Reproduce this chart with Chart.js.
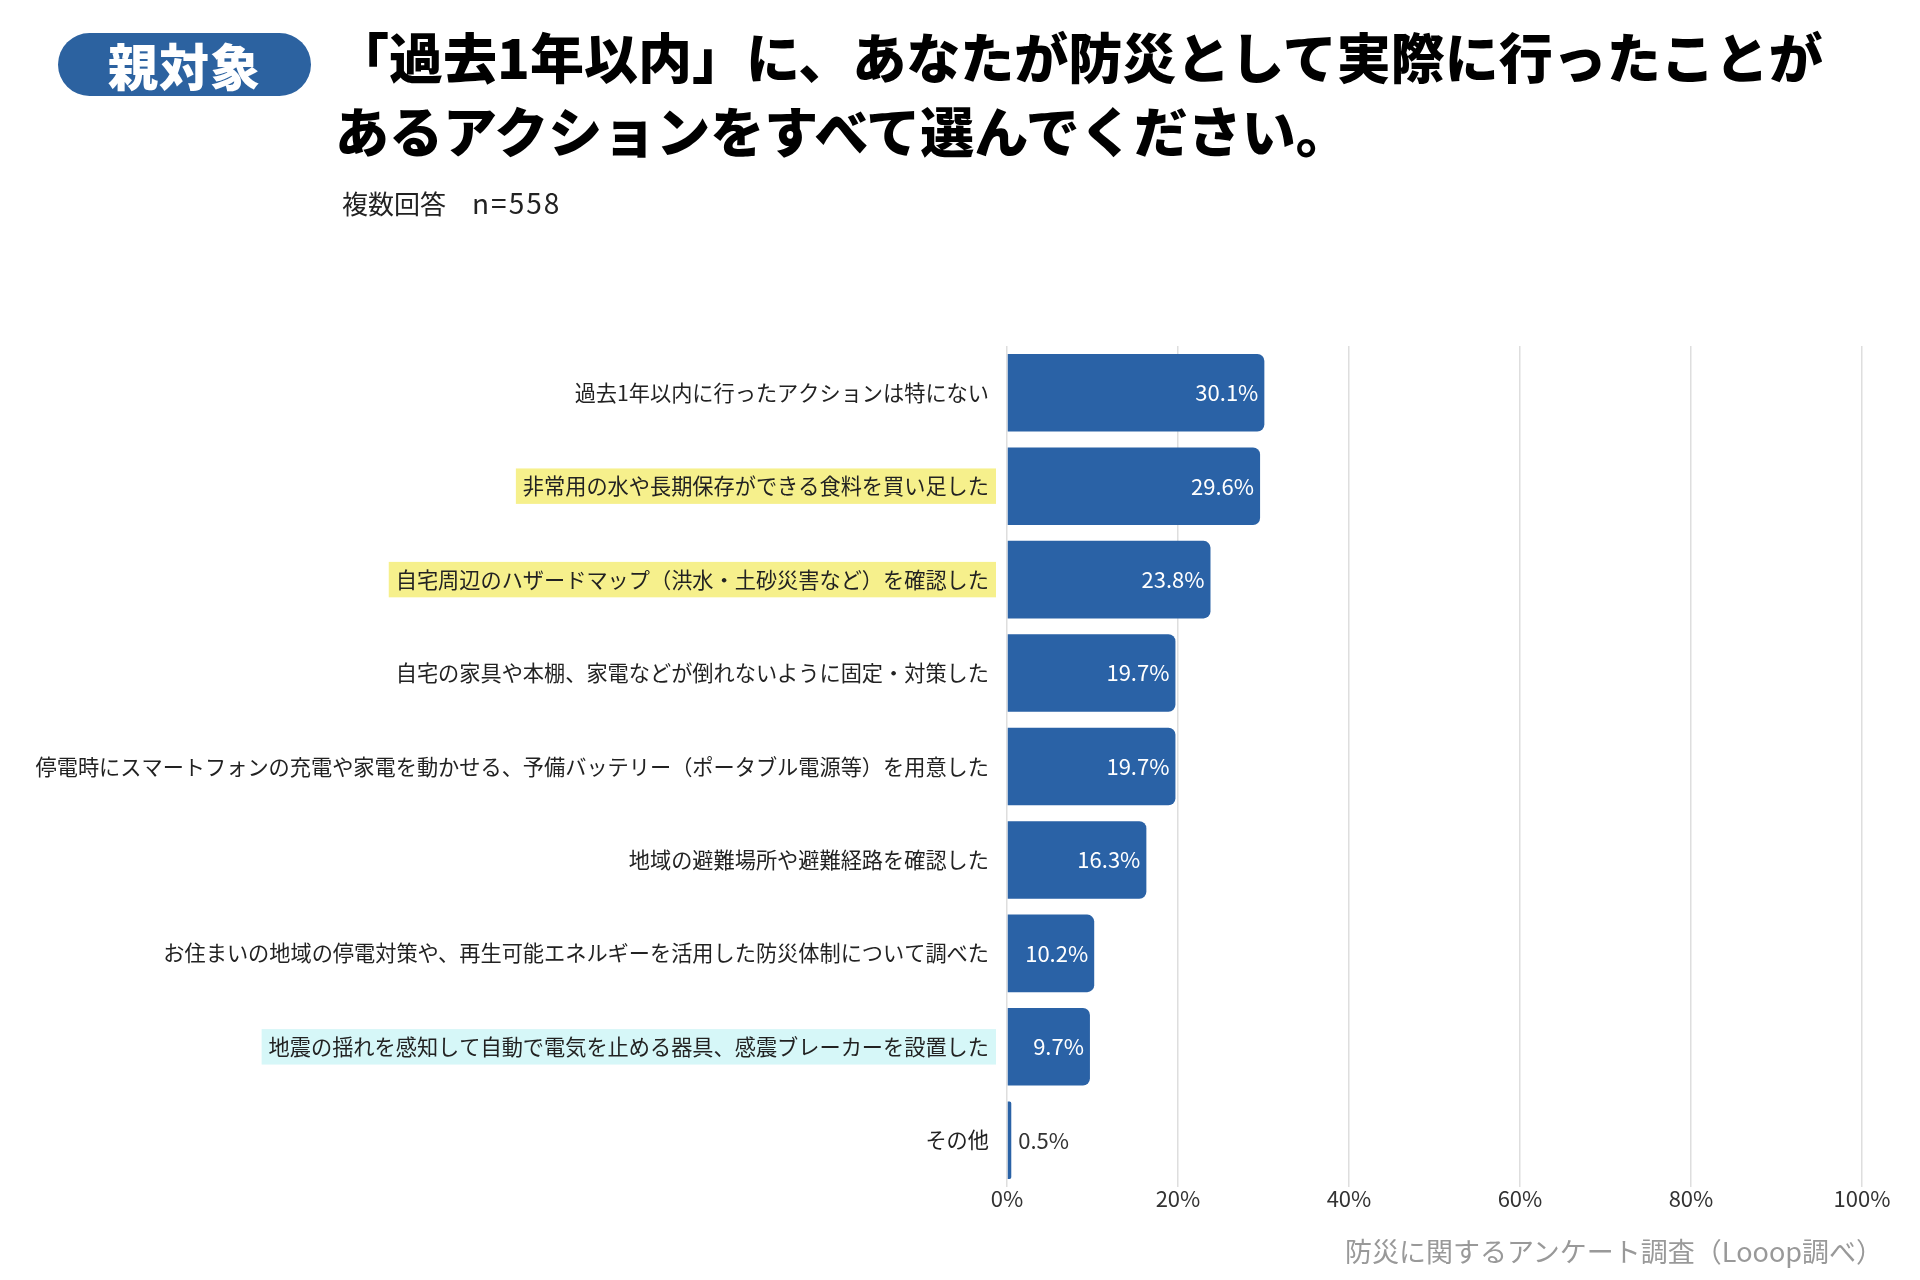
<!DOCTYPE html>
<html lang="ja">
<head>
<meta charset="utf-8">
<script src="https://cdn.jsdelivr.net/npm/chart.js@4.4.1/dist/chart.umd.min.js"></script>
<style>
  html, body { margin: 0; padding: 0; background: #fff; }
  body { width: 1920px; height: 1280px; position: relative; overflow: hidden;
         font-family: 'Noto Sans CJK JP', 'Noto Sans', sans-serif; }
  #wrap { position: absolute; left: 0; top: 0; width: 1920px; height: 1280px; }
  .badge { position: absolute; left: 58px; top: 33px; width: 253px; height: 63px;
           border-radius: 32px; background: #2c62a0; color: #fff; font-weight: 900;
           font-size: 50px; line-height: 63px; text-align: center; letter-spacing: 1px; }
  .title { position: absolute; left: 335px; top: 19px; font-size: 54px; font-weight: 900;
           line-height: 74px; color: #000; white-space: nowrap; }
  .sub { position: absolute; left: 342px; top: 184px; font-size: 26px; color: #222; line-height: 36px; }
  .sub .n { font-size: 28px; letter-spacing: 2px; }
  .foot { position: absolute; right: 37px; top: 1233px; font-size: 27px; color: #999; line-height: 36px; }
</style>
</head>
<body>
<div id="wrap"><canvas id="c"></canvas></div>
<div class="badge">親対象</div>
<div class="title">「過去1年以内」に、あなたが防災として実際に行ったことが<br>あるアクションをすべて選んでください。</div>
<div class="sub">複数回答　<span class="n">n=558</span></div>
<div class="foot">防災に関するアンケート調査（Looop調べ）</div>
<script>
const categories = [
  '過去1年以内に行ったアクションは特にない',
  '非常用の水や長期保存ができる食料を買い足した',
  '自宅周辺のハザードマップ（洪水・土砂災害など）を確認した',
  '自宅の家具や本棚、家電などが倒れないように固定・対策した',
  '停電時にスマートフォンの充電や家電を動かせる、予備バッテリー（ポータブル電源等）を用意した',
  '地域の避難場所や避難経路を確認した',
  'お住まいの地域の停電対策や、再生可能エネルギーを活用した防災体制について調べた',
  '地震の揺れを感知して自動で電気を止める器具、感震ブレーカーを設置した',
  'その他'
];
const values = [30.1, 29.6, 23.8, 19.7, 19.7, 16.3, 10.2, 9.7, 0.5];
const highlights = [null, 'yellow', 'yellow', null, null, null, null, 'cyan', null];
const xTicks = [0, 20, 40, 60, 80, 100];

const highlightColors = { yellow: '#f6f08c', cyan: '#d6f7f8' };
const FONT = "'Noto Sans CJK JP', 'Noto Sans', sans-serif";
Chart.defaults.font.family = FONT;

const valueLabels = {
  id: 'valueLabels',
  afterDatasetsDraw(chart) {
    const ctx = chart.ctx;
    const meta = chart.getDatasetMeta(0);
    ctx.save();
    ctx.font = '22px ' + FONT;
    ctx.textBaseline = 'middle';
    meta.data.forEach((bar, i) => {
      const txt = values[i].toFixed(1) + '%';
      const w = ctx.measureText(txt).width;
      const len = bar.x - bar.base;
      if (len > w + 14) {
        ctx.fillStyle = '#ffffff';
        ctx.textAlign = 'right';
        ctx.fillText(txt, bar.x - 6, bar.y);
      } else {
        ctx.fillStyle = '#333333';
        ctx.textAlign = 'left';
        ctx.fillText(txt, bar.x + 7, bar.y);
      }
    });
    ctx.restore();
  }
};

new Chart(document.getElementById('c'), {
  type: 'bar',
  data: {
    labels: categories,
    datasets: [{
      data: values,
      backgroundColor: '#2a62a6',
      borderRadius: 7,
      borderSkipped: 'start',
      barPercentage: 0.83,
      categoryPercentage: 1.0
    }]
  },
  options: {
    indexAxis: 'y',
    responsive: true,
    maintainAspectRatio: false,
    animation: false,
    devicePixelRatio: 1,
    layout: { padding: { top: 346, bottom: 53, left: 0, right: 58 } },
    plugins: { legend: { display: false }, tooltip: { enabled: false }, title: { display: false } },
    scales: {
      x: {
        min: 0, max: 100,
        afterBuildTicks(scale) { scale.ticks = xTicks.map(v => ({ value: v })); },
        afterFit(scale) { scale.height = 40; },
        grid: { color: '#dedede', lineWidth: 1.5, drawTicks: false },
        border: { display: false },
        ticks: {
          padding: -2,
          color: '#333',
          font: { size: 22 },
          callback: v => v + '%'
        }
      },
      y: {
        afterFit(scale) { scale.width = 1007; },
        grid: { display: false, drawTicks: false },
        border: { display: false },
        ticks: {
          padding: 18,
          color: '#222',
          font: { size: 21.2 },
          showLabelBackdrop: (c) => !!highlights[c.index],
          backdropColor: (c) => highlights[c.index] ? highlightColors[highlights[c.index]] : 'rgba(0,0,0,0)',
          backdropPadding: { x: 7, y: 5 }
        }
      }
    }
  },
  plugins: [valueLabels]
});
</script>
</body>
</html>
